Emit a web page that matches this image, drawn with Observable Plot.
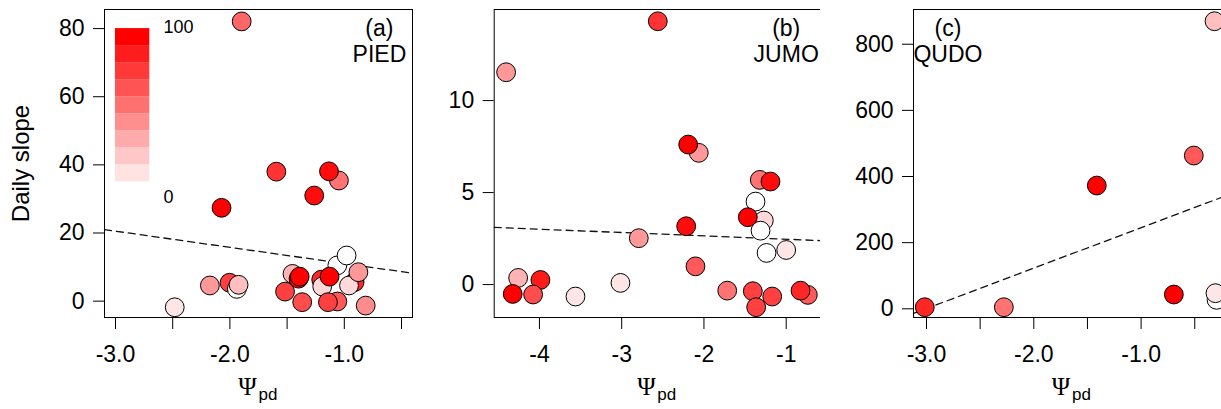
<!DOCTYPE html>
<html>
<head>
<meta charset="utf-8">
<script src="https://cdn.jsdelivr.net/npm/d3@7"></script>
<script src="https://cdn.jsdelivr.net/npm/@observablehq/plot@0.6"></script>
<style>
  html, body { margin: 0; padding: 0; background: #fff; }
  body { width: 1221px; height: 409px; overflow: hidden; position: relative; }
  .p { position: absolute; top: 0; }
  .p svg { max-width: none !important; }
</style>
</head>
<body>
<div id="pa" class="p" style="left:0px"></div>
<div id="pb" class="p" style="left:420px"></div>
<div id="pc" class="p" style="left:820px"></div>
<script>
// ---------- Data ----------
// Panel (a) PIED
const psiA   = [-1.897, -2.073, -1.594, -1.047, -1.134, -1.263, -2.482, -2.175, -2.003, -1.939, -1.924, -1.518, -1.368, -1.453, -1.400, -1.390, -1.202, -1.193, -1.061, -1.143, -1.061, -0.980, -1.129, -0.910, -0.959, -0.877, -0.813];
const slopeA = [82.1, 27.4, 38.0, 35.4, 38.1, 31.0, -1.8, 4.6, 5.4, 3.6, 4.8, 2.8, -0.3, 8.0, 6.6, 7.2, 6.3, 4.3, -0.1, -0.3, 10.5, 13.4, 7.2, 5.6, 4.6, 8.5, -1.3];
const pctA   = [60, 100, 80, 55, 95, 95, 10, 40, 75, 0, 25, 75, 70, 30, 100, 100, 85, 15, 65, 75, 0, 0, 100, 85, 15, 40, 45];
const fitA   = {psi: [-3.096, -0.404], slope: [21.0, 8.2]};

// Panel (b) JUMO
const psiB   = [-2.561, -4.405, -2.063, -2.192, -1.321, -1.191, -1.373, -1.272, -1.467, -1.312, -2.216, -2.792, -1.239, -1.000, -2.103, -3.015, -4.259, -4.325, -3.988, -4.077, -3.562, -1.717, -1.406, -1.365, -1.170, -0.737, -0.826];
const slopeB = [14.31, 11.54, 7.16, 7.61, 5.69, 5.60, 4.51, 3.48, 3.66, 2.93, 3.17, 2.52, 1.72, 1.88, 0.99, 0.09, 0.36, -0.51, 0.25, -0.54, -0.65, -0.33, -0.36, -1.23, -0.65, -0.56, -0.33];
const pctB   = [80, 40, 40, 100, 55, 95, 0, 15, 100, 0, 95, 40, 0, 10, 65, 10, 30, 100, 90, 70, 10, 55, 75, 75, 75, 65, 85];
const fitB   = {psi: [-4.55, -0.583], slope: [3.11, 2.39]};

// Panel (c) QUDO
const psiC   = [-3.016, -2.279, -1.413, -0.695, -0.509, -0.316, -0.297, -0.307];
const slopeC = [4.8, 4.8, 372.7, 43.2, 463.4, 869.5, 27.2, 47.2];
const pctC   = [85, 55, 100, 100, 65, 25, 0, 10];
const fitC   = {psi: [-3.121, -0.167], slope: [-14, 347]};

// Legend (percent) levels, bottom to top
const legendLevels = [11, 22, 33, 44, 56, 67, 78, 89, 100];
const legendLabels = ["100", "0"];

// Ticks
const xTicksA = [-3.0, -2.5, -2.0, -1.5, -1.0, -0.5];
const xLabA   = [-3.0, -2.0, -1.0];
const yTicksA = [0, 20, 40, 60, 80];
const xTicksB = [-4, -3, -2, -1];
const yTicksB = [0, 5, 10];
const xTicksC = [-3.0, -2.5, -2.0, -1.5, -1.0, -0.5];
const xLabC   = [-3.0, -2.0, -1.0];
const yTicksC = [0, 200, 400, 600, 800];

const panelTitles = ["(a)\nPIED", "(b)\nJUMO", "(c)\nQUDO"];

// ---------- Drawing ----------
const FONT = "'Liberation Sans', Arial, Helvetica, sans-serif";
const toRows = (xs, ys, cs) => xs.map((x, i) => ({x, y: ys[i], c: cs[i]}));
const toFit = f => f.psi.map((x, i) => ({x, y: f.slope[i]}));

function panel(cfg) {
  const marks = [
    Plot.axisY({ticks: cfg.yTicks, tickSize: 11, tickPadding: 9, tickFormat: d => String(d), fontSize: 23, label: null}),
    Plot.axisX({ticks: cfg.xTicks, tickSize: 12, tickPadding: 16, tickFormat: cfg.xFmt, fontSize: 23, label: null}),
    Plot.line(toFit(cfg.fit), {x: "x", y: "y", stroke: "#111", strokeWidth: 1.3, strokeDasharray: "7,5"}),
    Plot.dot(toRows(cfg.xs, cfg.ys, cfg.cs), {x: "x", y: "y", r: 9.4, fill: "c", stroke: "black", strokeWidth: 1}),
    Plot.text([cfg.title], {x: cfg.titlePos[0], y: cfg.titlePos[1], text: d => d, fontSize: 23, lineHeight: 1.15, lineAnchor: "middle", textAnchor: "middle", fill: "black"}),
    Plot.text(["Ψ"], {frameAnchor: "bottom", lineAnchor: "bottom", dy: 77, dx: -11, textAnchor: "middle", fontSize: 25, fontFamily: "'Liberation Serif', 'DejaVu Serif', serif", fill: "black"}),
    Plot.text(["pd"], {frameAnchor: "bottom", lineAnchor: "bottom", dy: 82, dx: 0, textAnchor: "start", fontSize: 17, fill: "black"}),
    Plot.frame({stroke: "black", strokeWidth: 1})
  ];
  if (cfg.extra) marks.unshift(...cfg.extra);
  return Plot.plot({
    width: cfg.width, height: 409,
    marginLeft: cfg.ml, marginRight: cfg.mr, marginTop: 9, marginBottom: 92,
    x: {domain: cfg.xDomain},
    y: {domain: cfg.yDomain},
    color: {type: "linear", domain: [0, 100], range: ["white", "red"], interpolate: "rgb"},
    style: {fontFamily: FONT, fontSize: "23px", background: "white", color: "black", overflow: "visible", maxWidth: "none"},
    marks
  });
}

const fmt1 = labs => d => labs.includes(d) ? d.toFixed(1) : "";

// legend drawn inside panel (a) in its data space
const legendMarks = [
  Plot.rect(legendLevels, {x1: -3.0, x2: -2.7, y1: (d, i) => 35 + 5 * i, y2: (d, i) => 40 + 5 * i, fill: d => d}),
  Plot.text([legendLabels[0]], {x: -2.58, y: 80.3, text: d => d, textAnchor: "start", fontSize: 18, fill: "black"}),
  Plot.text([legendLabels[1]], {x: -2.58, y: 30.4, text: d => d, textAnchor: "start", fontSize: 18, fill: "black"}),
  Plot.text(["Daily slope"], {frameAnchor: "left", dx: -83, rotate: -90, textAnchor: "middle", fontSize: 24, fill: "black"})
];

document.getElementById("pa").appendChild(panel({
  width: 420, ml: 104, mr: 8,
  xDomain: [-3.096, -0.404], yDomain: [-4.8, 85.6],
  xTicks: xTicksA, xFmt: fmt1(xLabA), yTicks: yTicksA,
  xs: psiA, ys: slopeA, cs: pctA, fit: fitA,
  title: panelTitles[0], titlePos: [-0.693, 76.5],
  extra: legendMarks
}));

document.getElementById("pb").appendChild(panel({
  width: 410, ml: 73.7, mr: 10,
  xDomain: [-4.55, -0.583], yDomain: [-1.79, 14.95],
  xTicks: xTicksB, xFmt: d => String(d), yTicks: yTicksB,
  xs: psiB, ys: slopeB, cs: pctB, fit: fitB,
  title: panelTitles[1], titlePos: [-1.0, 13.26]
}));

document.getElementById("pc").appendChild(panel({
  width: 420, ml: 93, mr: 10,
  xDomain: [-3.121, -0.167], yDomain: [-26.3, 905],
  xTicks: xTicksC, xFmt: fmt1(xLabC), yTicks: yTicksC,
  xs: psiC, ys: slopeC, cs: pctC, fit: fitC,
  title: panelTitles[2], titlePos: [-2.8, 811]
}));
</script>
</body>
</html>
